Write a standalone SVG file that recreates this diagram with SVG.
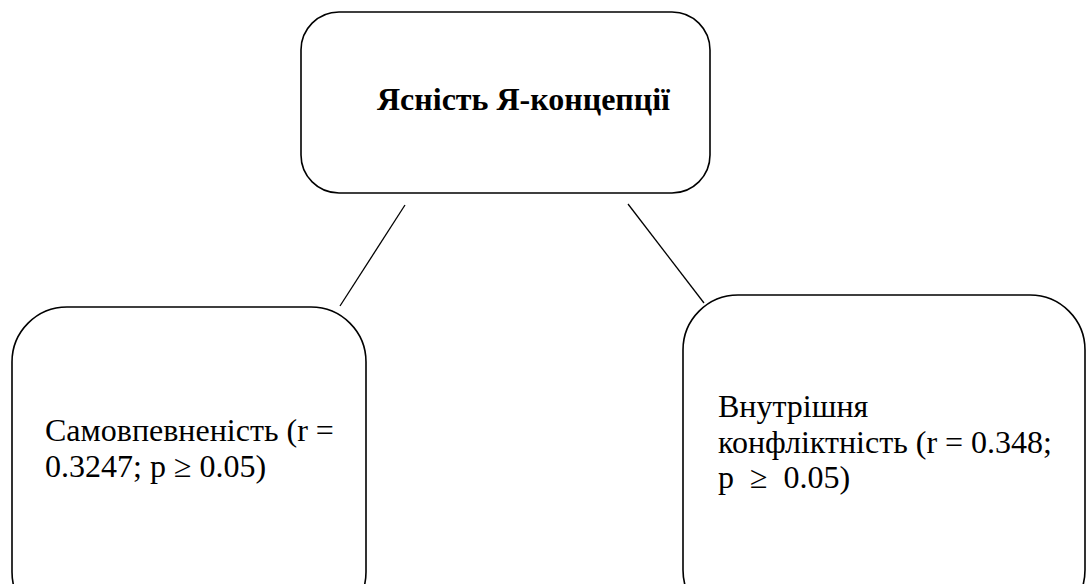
<svg xmlns="http://www.w3.org/2000/svg" width="1086" height="584" viewBox="0 0 1086 584">
<style>
.box{fill:#fff;stroke:#000;stroke-width:1.6}
.t{font-family:"Liberation Serif","Times New Roman","DejaVu Serif",serif;font-size:32px;fill:#000}
.b{font-weight:bold}
.c{stroke:#000;stroke-width:1.3;fill:none}
</style>
<rect width="1086" height="584" fill="#fff"/>
<g id="connectors">
<line class="c" x1="405" y1="205" x2="340" y2="306"/>
<line class="c" x1="628" y1="204" x2="704" y2="303"/>
</g>
<g id="node-top">
<rect class="box" x="301" y="12" width="409" height="181" rx="38" ry="38"/>
<text class="t b" x="377" y="110">Ясність Я-концепції</text>
</g>
<g id="node-left">
<rect class="box" x="12" y="307" width="354" height="320" rx="55" ry="55"/>
<text class="t" x="45" y="441">Самовпевненість (r =</text>
<text class="t" x="45" y="477">0.3247; p ≥ 0.05)</text>
</g>
<g id="node-right">
<rect class="box" x="683" y="295" width="402" height="330" rx="55" ry="55"/>
<text class="t" x="718" y="417">Внутрішня</text>
<text class="t" x="718" y="453">конфліктність (r = 0.348;</text>
<text class="t" x="718" y="488" xml:space="preserve">p  ≥  0.05)</text>
</g>
</svg>
